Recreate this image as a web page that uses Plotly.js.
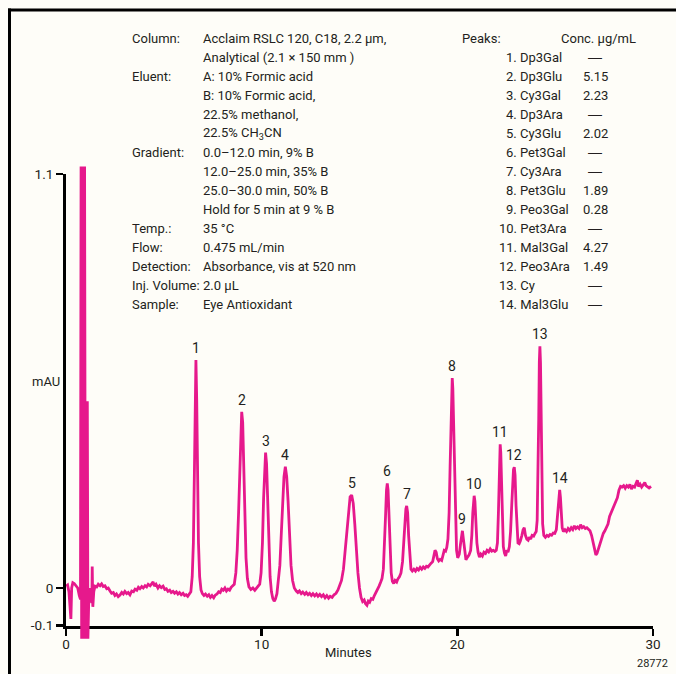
<!DOCTYPE html>
<html><head><meta charset="utf-8">
<script src="https://cdn.plot.ly/plotly-3.0.1.min.js"></script>
<style>html,body{margin:0;padding:0;background:#fefdf8;} #chart{width:676px;height:674px;}</style>
</head><body><div id="chart"></div>
<script>
// ---------- DATA ----------
// chromatogram: [minutes, mAU]
const chromatogram = [
 [0.00,0.005],[0.08,0.008],[0.15,-0.01],[0.20,-0.06],[0.25,-0.082],[0.29,0.0],[0.35,0.014],[0.42,0.012],[0.50,0.005],[0.60,0.0],
 [0.68,-0.02],[0.74,-0.03],[0.77,1.12],[0.80,-0.135],[0.83,1.12],[0.86,-0.135],[0.89,1.12],[0.92,-0.135],[0.95,1.12],[0.99,-0.135],
 [1.03,0.0],[1.06,-0.135],[1.09,0.496],[1.12,-0.135],[1.16,-0.04],[1.22,0.0],[1.28,-0.03],[1.32,-0.04],[1.34,0.057],[1.37,-0.05],
 [1.42,-0.01],[1.48,0.005],[1.57,0.003],[1.65,0.01],[1.74,0.006],[1.82,0.011],[1.90,0.004],[1.99,0.006],[2.08,-0.002],[2.16,0.0],
 [2.25,-0.008],[2.33,-0.014],[2.42,-0.012],[2.50,-0.02],[2.58,-0.016],[2.67,-0.023],[2.76,-0.019],[2.85,-0.012],[2.93,-0.016],[3.01,-0.009],
 [3.10,-0.015],[3.18,-0.012],[3.27,-0.018],[3.36,-0.008],[3.45,-0.01],[3.53,-0.003],[3.62,-0.006],[3.70,0.002],[3.78,-0.002],[3.87,0.004],
 [3.95,0.0],[4.04,0.006],[4.12,0.003],[4.20,0.01],[4.30,0.006],[4.38,0.012],[4.45,0.016],[4.52,0.005],[4.60,0.01],[4.70,0.0],
 [4.78,0.006],[4.87,0.001],[4.96,0.005],[5.05,-0.004],[5.13,-0.002],[5.21,-0.009],[5.30,-0.006],[5.38,-0.012],[5.47,-0.009],[5.55,-0.014],
 [5.64,-0.01],[5.72,-0.016],[5.80,-0.012],[5.89,-0.018],[5.98,-0.014],[6.06,-0.02],[6.14,-0.018],[6.22,-0.022],[6.30,-0.016],
 [6.38,-0.01],[6.45,0.03],[6.51,0.12],[6.56,0.3],[6.60,0.5],[6.64,0.606],[6.68,0.5],[6.72,0.3],[6.77,0.12],[6.83,0.03],[6.90,-0.005],[6.97,-0.015],
 [7.05,-0.02],[7.13,-0.016],[7.22,-0.022],[7.30,-0.018],[7.38,-0.025],[7.46,-0.02],[7.55,-0.026],[7.63,-0.019],[7.72,-0.016],[7.80,-0.01],
 [7.88,-0.012],[7.96,-0.003],[8.04,-0.006],[8.12,0.0],[8.20,-0.008],[8.28,-0.003],[8.36,-0.006],[8.44,0.002],[8.52,0.005],
 [8.60,0.01],[8.68,0.04],[8.75,0.1],[8.82,0.2],[8.88,0.33],[8.93,0.44],[8.98,0.468],[9.03,0.44],[9.08,0.33],[9.14,0.19],[9.20,0.08],[9.27,0.025],[9.35,0.003],
 [9.45,-0.004],[9.55,0.0],[9.65,-0.006],[9.75,0.0],[9.83,0.004],
 [9.90,0.01],[9.97,0.04],[10.04,0.12],[10.10,0.24],[10.15,0.33],[10.20,0.36],[10.25,0.33],[10.30,0.24],[10.36,0.12],[10.43,0.03],[10.50,-0.01],[10.57,-0.028],[10.64,-0.035],[10.70,-0.03],
 [10.78,-0.015],[10.86,0.02],[10.93,0.06],[11.00,0.14],[11.07,0.23],[11.14,0.295],[11.21,0.322],[11.28,0.295],[11.35,0.23],[11.42,0.14],[11.50,0.06],[11.58,0.02],[11.67,0.0],[11.77,-0.008],
 [11.85,-0.012],[11.93,-0.008],[12.02,-0.015],[12.10,-0.011],[12.20,-0.017],[12.28,-0.012],[12.37,-0.018],[12.45,-0.014],[12.54,-0.02],[12.62,-0.015],
 [12.71,-0.021],[12.80,-0.016],[12.88,-0.022],[12.97,-0.017],[13.06,-0.023],[13.15,-0.018],[13.24,-0.026],[13.33,-0.02],[13.42,-0.027],[13.50,-0.022],
 [13.60,-0.025],[13.70,-0.018],[13.80,-0.014],[13.90,-0.005],
 [13.98,0.005],[14.08,0.02],[14.18,0.05],[14.27,0.1],[14.35,0.16],[14.43,0.21],[14.52,0.242],[14.60,0.247],[14.68,0.225],[14.76,0.17],[14.84,0.1],[14.92,0.04],[15.00,0.0],
 [15.08,-0.025],[15.16,-0.036],[15.24,-0.032],[15.31,-0.042],[15.38,-0.046],[15.45,-0.035],[15.52,-0.038],[15.60,-0.028],[15.68,-0.03],[15.76,-0.02],[15.84,-0.012],[15.92,-0.006],[16.00,0.005],[16.08,0.015],
 [16.15,0.025],[16.22,0.05],[16.28,0.11],[16.33,0.19],[16.38,0.26],[16.42,0.278],[16.46,0.26],[16.51,0.18],[16.56,0.1],[16.62,0.04],[16.68,0.018],[16.75,0.012],[16.82,0.02],[16.90,0.016],[16.97,0.025],[17.04,0.03],
 [17.12,0.04],[17.20,0.07],[17.26,0.12],[17.32,0.18],[17.37,0.21],[17.41,0.218],[17.46,0.2],[17.51,0.14],[17.57,0.08],[17.63,0.05],[17.70,0.045],
 [17.78,0.05],[17.86,0.045],[17.94,0.052],[18.02,0.048],[18.10,0.055],[18.18,0.05],[18.26,0.056],[18.34,0.052],[18.42,0.058],[18.50,0.056],
 [18.58,0.062],[18.66,0.066],[18.74,0.07],[18.80,0.085],[18.86,0.1],[18.92,0.095],[18.98,0.078],[19.05,0.072],[19.12,0.076],[19.20,0.073],
 [19.27,0.085],[19.33,0.1],[19.40,0.098],[19.46,0.108],
 [19.52,0.13],[19.58,0.2],[19.63,0.32],[19.68,0.46],[19.71,0.53],[19.74,0.558],[19.77,0.53],[19.81,0.44],[19.85,0.3],[19.90,0.18],[19.96,0.1],[20.02,0.08],
 [20.10,0.09],[20.17,0.12],[20.22,0.148],[20.26,0.152],[20.31,0.13],[20.37,0.095],[20.44,0.075],[20.52,0.082],[20.60,0.088],
 [20.68,0.1],[20.74,0.14],[20.79,0.2],[20.83,0.238],[20.86,0.245],[20.90,0.23],[20.95,0.17],[21.00,0.12],[21.06,0.095],[21.13,0.082],
 [21.20,0.09],[21.28,0.085],[21.36,0.095],[21.44,0.092],[21.52,0.1],[21.60,0.096],[21.68,0.104],[21.76,0.098],[21.84,0.1],[21.92,0.097],[21.99,0.1],
 [22.05,0.12],[22.10,0.2],[22.14,0.3],[22.17,0.365],[22.19,0.382],[22.22,0.36],[22.26,0.27],[22.30,0.17],[22.35,0.11],[22.41,0.093],[22.47,0.085],[22.53,0.1],[22.59,0.095],
 [22.66,0.11],[22.72,0.15],[22.78,0.22],[22.83,0.29],[22.87,0.315],[22.91,0.321],[22.95,0.3],[23.00,0.22],[23.05,0.15],[23.10,0.12],[23.16,0.118],[23.22,0.125],
 [23.30,0.14],[23.36,0.155],[23.42,0.16],[23.48,0.14],[23.55,0.13],[23.62,0.127],[23.68,0.135],[23.75,0.13],[23.82,0.14],[23.90,0.138],[23.97,0.145],[24.03,0.15],
 [24.08,0.18],[24.12,0.28],[24.16,0.45],[24.19,0.6],[24.22,0.642],[24.25,0.6],[24.28,0.45],[24.32,0.28],[24.36,0.17],[24.42,0.14],
 [24.50,0.135],[24.58,0.14],[24.66,0.137],[24.74,0.142],[24.82,0.14],[24.90,0.146],[24.98,0.145],[25.06,0.155],
 [25.12,0.19],[25.17,0.24],[25.20,0.258],[25.23,0.261],[25.27,0.24],[25.31,0.19],[25.36,0.16],[25.42,0.15],
 [25.50,0.155],[25.58,0.15],[25.66,0.158],[25.74,0.153],[25.82,0.16],[25.90,0.155],[25.98,0.165],[26.06,0.158],[26.14,0.162],[26.22,0.158],
 [26.30,0.168],[26.38,0.16],[26.46,0.163],[26.54,0.158],[26.62,0.16],[26.70,0.156],[26.78,0.152],[26.86,0.14],[26.94,0.12],[27.02,0.1],
 [27.08,0.088],[27.14,0.092],[27.22,0.105],[27.30,0.12],[27.38,0.13],[27.46,0.145],[27.54,0.152],[27.62,0.16],[27.70,0.17],[27.78,0.19],
 [27.86,0.2],[27.94,0.215],[28.02,0.22],[28.10,0.232],[28.18,0.24],[28.26,0.26],[28.34,0.27],[28.42,0.268],[28.50,0.272],[28.58,0.265],
 [28.66,0.272],[28.74,0.268],[28.82,0.275],[28.90,0.263],[28.98,0.27],[29.06,0.268],[29.14,0.278],[29.20,0.286],[29.26,0.27],[29.34,0.276],
 [29.42,0.268],[29.50,0.274],[29.58,0.28],[29.64,0.272],[29.72,0.27],[29.80,0.266],[29.90,0.27]
];

const peakNumbers = [1,2,3,4,5,6,7,8,9,10,11,12,13,14];
const peakTimes   = [6.64,8.98,10.20,11.21,14.60,16.42,17.41,19.74,20.26,20.86,22.19,22.91,24.22,25.23];
const peakHeights = [0.606,0.468,0.36,0.322,0.247,0.278,0.218,0.558,0.152,0.245,0.382,0.321,0.642,0.261];
const peakNames   = ["Dp3Gal","Dp3Glu","Cy3Gal","Dp3Ara","Cy3Glu","Pet3Gal","Cy3Ara","Pet3Glu","Peo3Gal","Pet3Ara","Mal3Gal","Peo3Ara","Cy","Mal3Glu"];
const peakConc    = ["—","5.15","2.23","—","2.02","—","—","1.89","0.28","—","4.27","1.49","—","—"];

const conditionLabels = ["Column:","","Eluent:","","","","Gradient:","","","","Temp.:","Flow:","Detection:","Inj. Volume:","Sample:"];
const conditionValues = ["Acclaim RSLC 120, C18, 2.2 µm,","Analytical (2.1 × 150 mm )","A: 10% Formic acid","B: 10% Formic acid,","22.5% methanol,","22.5% CH<sub>3</sub>CN","0.0–12.0 min, 9% B","12.0–25.0 min, 35% B","25.0–30.0 min, 50% B","Hold for 5 min at 9 % B","35 °C","0.475 mL/min","Absorbance, vis at 520 nm","2.0 µL","Eye Antioxidant"];

const xTickVals = [0,10,20,30];
const xTickText = ["0","10","20","30"];
const yTickVals = [-0.1,0,1.1];
const yTickText = ["-0.1","0","1.1"];

// ---------- LAYOUT ----------
const W = 676, H = 674;
const FONT = "Roboto, Liberation Sans, sans-serif";
const INK = "#231f20", PINK = "#e6198c", BG = "#fefdf8";
const px = v => v / W;
const py = v => 1 - v / H;
const X0 = 66, X30 = 653, Y0 = 588, Y11 = 174;
const unit = (Y0 - Y11) / 1.1;
const yBot = Y0 + 0.1 * unit;
const extTop = 150, extBot = 652;

const minutes = chromatogram.map(p => p[0]);
const mAU = chromatogram.map(p => p[1]);

const trace = {
  type: "scatter", mode: "lines", x: minutes, y: mAU, xaxis: "x2", yaxis: "y2",
  line: {color: PINK, width: 2.8, shape: "linear"}, hoverinfo: "skip"
};
// peak apexes on the visible axes (invisible markers; numbers are drawn as annotations)
const apexTrace = {
  type: "scatter", mode: "markers", x: peakTimes, y: peakHeights, xaxis: "x", yaxis: "y",
  marker: {size: 1, opacity: 0}, hoverinfo: "skip"
};

const annotations = [];
const lineY = i => py(38.3 + 19 * i);
conditionLabels.forEach((t, i) => {
  if (t) annotations.push({xref: "paper", yref: "paper", x: px(130), y: lineY(i), text: t, showarrow: false, xanchor: "left", yanchor: "middle"});
});
conditionValues.forEach((t, i) => {
  annotations.push({xref: "paper", yref: "paper", x: px(201), y: lineY(i), text: t, showarrow: false, xanchor: "left", yanchor: "middle"});
});
annotations.push({xref: "paper", yref: "paper", x: px(460), y: lineY(0), text: "Peaks:", showarrow: false, xanchor: "left", yanchor: "middle"});
annotations.push({xref: "paper", yref: "paper", x: px(559), y: lineY(0), text: "Conc. µg/mL", showarrow: false, xanchor: "left", yanchor: "middle"});
peakNames.forEach((n, i) => {
  const num = peakNumbers[i];
  annotations.push({xref: "paper", yref: "paper", x: px(num < 10 ? 504 : 497), y: lineY(i + 1), text: num + ". " + n, showarrow: false, xanchor: "left", yanchor: "middle"});
  const dash = peakConc[i] === "—";
  annotations.push({xref: "paper", yref: "paper", x: px(595), y: lineY(i + 1), text: peakConc[i], showarrow: false, xanchor: "center", yanchor: "middle",
    font: dash ? {family: "Liberation Sans, sans-serif", size: 14} : undefined});
});
peakNumbers.forEach((n, i) => {
  annotations.push({xref: "x", yref: "y", x: peakTimes[i], y: peakHeights[i], text: String(n), showarrow: false,
    xanchor: "center", yanchor: "bottom", yshift: 2, font: {size: 14}});
});
annotations.push({xref: "paper", yref: "paper", x: px(348), y: py(652), text: "Minutes", showarrow: false, xanchor: "center", yanchor: "middle"});
annotations.push({xref: "paper", yref: "paper", x: px(46), y: py(381), text: "mAU", showarrow: false, xanchor: "center", yanchor: "middle"});
annotations.push({xref: "paper", yref: "paper", x: px(652), y: py(663), text: "28772", showarrow: false, xanchor: "center", yanchor: "middle", font: {size: 11}});

const axisCommon = {showgrid: false, zeroline: false, showline: true, linecolor: "#000", linewidth: 3,
  ticks: "outside", ticklen: 7, tickwidth: 2.5, tickcolor: "#000", fixedrange: true,
  tickfont: {family: FONT, size: 13.5, color: INK}};

const layout = {
  width: W, height: H, margin: {l: 0, r: 0, t: 0, b: 0},
  paper_bgcolor: BG, plot_bgcolor: "rgba(0,0,0,0)", showlegend: false,
  font: {family: FONT, size: 13, color: INK},
  xaxis: Object.assign({}, axisCommon, {domain: [px(X0), px(X30)], range: [0, 30], anchor: "y",
    tickmode: "array", tickvals: xTickVals, ticktext: xTickText, ticklabelstandoff: -3}),
  yaxis: Object.assign({}, axisCommon, {domain: [py(yBot), py(Y11)], range: [-0.1, 1.1], anchor: "x",
    tickmode: "array", tickvals: yTickVals, ticktext: yTickText}),
  xaxis2: {domain: [px(X0), px(X30)], range: [0, 30], visible: false, anchor: "y2", fixedrange: true},
  yaxis2: {domain: [py(extBot), py(extTop)], range: [(Y0 - extBot) / unit, (Y0 - extTop) / unit], visible: false, anchor: "x2", fixedrange: true},
  annotations: annotations,
  shapes: [
    {type: "line", xref: "paper", yref: "paper", x0: px(8), x1: 1, y0: py(10), y1: py(10), line: {color: "#000", width: 3}},
    {type: "line", xref: "paper", yref: "paper", x0: px(9.5), x1: px(9.5), y0: py(8.5), y1: 0, line: {color: "#000", width: 3}}
  ]
};

Plotly.newPlot("chart", [trace, apexTrace], layout, {displayModeBar: false, staticPlot: true});
</script>
</body></html>
